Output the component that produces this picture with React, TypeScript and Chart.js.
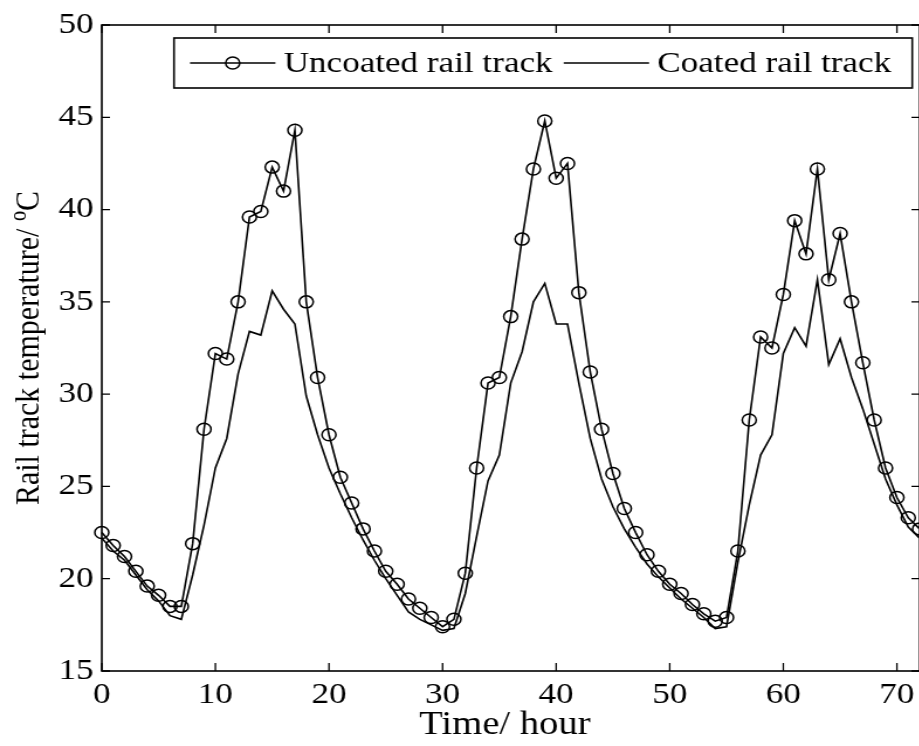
import React, { useEffect, useRef } from "react";
import { Chart, registerables } from "chart.js";

Chart.register(...registerables);

// ---- data ----
const hours = [
  0, 1, 2, 3, 4, 5, 6, 7, 8, 9, 10, 11, 12, 13, 14, 15, 16, 17, 18, 19, 20, 21, 22, 23, 24,
  25, 26, 27, 28, 29, 30, 31, 32, 33, 34, 35, 36, 37, 38, 39, 40, 41, 42, 43, 44, 45, 46, 47, 48,
  49, 50, 51, 52, 53, 54, 55, 56, 57, 58, 59, 60, 61, 62, 63, 64, 65, 66, 67, 68, 69, 70, 71, 72,
];

const uncoated = [
  22.5, 21.8, 21.2, 20.4, 19.6, 19.1, 18.5, 18.5, 21.9, 28.1, 32.2, 31.9, 35.0, 39.6, 39.9, 42.3,
  41.0, 44.3, 35.0, 30.9, 27.8, 25.5, 24.1, 22.7, 21.5, 20.4, 19.7, 18.9, 18.4, 17.9, 17.4, 17.8,
  20.3, 26.0, 30.6, 30.9, 34.2, 38.4, 42.2, 44.8, 41.7, 42.5, 35.5, 31.2, 28.1, 25.7, 23.8, 22.5,
  21.3, 20.4, 19.7, 19.2, 18.6, 18.1, 17.7, 17.9, 21.5, 28.6, 33.1, 32.5, 35.4, 39.4, 37.6, 42.2,
  36.2, 38.7, 35.0, 31.7, 28.6, 26.0, 24.4, 23.3, 22.7,
];

const coated = [
  22.2, 21.5, 21.0, 20.2, 19.4, 18.8, 18.0, 17.8, 20.2, 22.9, 26.0, 27.6, 31.1, 33.4, 33.2, 35.6,
  34.6, 33.8, 29.9, 27.8, 26.0, 24.6, 23.3, 22.1, 21.0, 20.0, 19.1, 18.2, 17.8, 17.5, 17.2, 17.3,
  19.2, 22.3, 25.3, 26.7, 30.6, 32.3, 35.0, 36.0, 33.8, 33.8, 30.6, 27.6, 25.4, 23.9, 22.7, 21.7,
  20.8, 20.1, 19.5, 18.9, 18.4, 17.9, 17.3, 17.4, 20.9, 24.0, 26.7, 27.8, 32.2, 33.6, 32.6, 36.2,
  31.6, 33.0, 30.9, 29.2, 27.3, 25.4, 24.0, 22.8, 22.2,
];

const seriesLabels = ["Uncoated rail track", "Coated rail track"];
const xTitle = "Time/ hour";
const yTitleMain = "Rail track temperature/ ";
const yTitleSup = "o";
const yTitleEnd = "C";

const X_MIN = 0;
const X_MAX = 72;
const X_STEP = 10;
const Y_MIN = 15;
const Y_MAX = 50;
const Y_STEP = 5;

// ---- layout ----
const STRETCH = 1.17; // horizontal stretch of the reference
const CW = 800;
const CH = 746;
const FONT = "'Liberation Serif', 'Times New Roman', serif";
const FS = 30;
const XTITLE_FS = 33;

const framePlugin = {
  id: "frame",
  afterDraw(chart: any) {
    const { ctx, chartArea } = chart;
    const { left, right, top, bottom } = chartArea;
    const xs = chart.scales.x;
    const ys = chart.scales.y;
    ctx.save();
    ctx.strokeStyle = "#000";
    ctx.lineWidth = 1.6;
    ctx.strokeRect(left, top, right - left, bottom - top);

    // inward ticks
    ctx.lineWidth = 1.3;
    ctx.beginPath();
    xs.ticks.forEach((t: any) => {
      const px = xs.getPixelForValue(t.value);
      ctx.moveTo(px, bottom);
      ctx.lineTo(px, bottom - 8);
      ctx.moveTo(px, top);
      ctx.lineTo(px, top + 8);
    });
    ys.ticks.forEach((t: any) => {
      const py = ys.getPixelForValue(t.value);
      ctx.moveTo(left, py);
      ctx.lineTo(left + 7, py);
      ctx.moveTo(right, py);
      ctx.lineTo(right - 7, py);
    });
    ctx.stroke();

    // legend
    ctx.font = `${FS}px ${FONT}`;
    ctx.fillStyle = "#000";
    ctx.textBaseline = "middle";
    ctx.textAlign = "left";
    const bx = left + 61.7;
    const by = 38;
    const bh = 50;
    const cy = by + bh / 2;
    const lineLen = 73;
    const w1 = ctx.measureText(seriesLabels[0]).width;
    const w2 = ctx.measureText(seriesLabels[1]).width;
    let cx = bx + 13.7;
    ctx.lineWidth = 1.5;
    ctx.beginPath();
    ctx.moveTo(cx, cy);
    ctx.lineTo(cx + lineLen, cy);
    ctx.stroke();
    ctx.beginPath();
    ctx.arc(cx + lineLen / 2, cy, 6, 0, Math.PI * 2);
    ctx.stroke();
    cx += lineLen + 7;
    ctx.fillText(seriesLabels[0], cx, cy + 1);
    cx += w1 + 9.5;
    ctx.beginPath();
    ctx.moveTo(cx, cy);
    ctx.lineTo(cx + lineLen, cy);
    ctx.stroke();
    cx += lineLen + 7;
    ctx.fillText(seriesLabels[1], cx, cy + 1);
    cx += w2 + 18;
    ctx.lineWidth = 1.6;
    ctx.strokeRect(bx, by, cx - bx, bh);

    // x title
    ctx.font = `${XTITLE_FS}px ${FONT}`;
    ctx.textAlign = "center";
    ctx.textBaseline = "alphabetic";
    ctx.fillText(xTitle, (left + right) / 2 - 5, 734);

    // y title (rotated, with superscript)
    ctx.save();
    ctx.translate(25.6, (top + bottom) / 2);
    ctx.rotate(-Math.PI / 2);
    ctx.textAlign = "left";
    ctx.textBaseline = "middle";
    ctx.font = `${FS}px ${FONT}`;
    const m1 = ctx.measureText(yTitleMain).width;
    const m3 = ctx.measureText(yTitleEnd).width;
    ctx.font = `${FS * 0.68}px ${FONT}`;
    const m2 = ctx.measureText(yTitleSup).width;
    const total = m1 + m2 + m3;
    let tx = -total / 2;
    ctx.font = `${FS}px ${FONT}`;
    ctx.fillText(yTitleMain, tx, 0);
    tx += m1;
    ctx.font = `${FS * 0.68}px ${FONT}`;
    ctx.fillText(yTitleSup, tx, -9);
    tx += m2;
    ctx.font = `${FS}px ${FONT}`;
    ctx.fillText(yTitleEnd, tx, 0);
    ctx.restore();

    ctx.restore();
  },
};

export default function App() {
  const ref = useRef<HTMLCanvasElement>(null);

  useEffect(() => {
    if (!ref.current) return;
    const font = { family: FONT, size: FS };
    const chart = new Chart(ref.current, {
      type: "line",
      data: {
        datasets: [
          {
            label: seriesLabels[0],
            data: hours.map((h, i) => ({ x: h, y: uncoated[i] })),
            borderColor: "#000",
            borderWidth: 1.6,
            pointRadius: 6,
            pointStyle: "circle",
            pointBorderColor: "#000",
            pointBackgroundColor: "rgba(0,0,0,0)",
            pointBorderWidth: 1.5,
            tension: 0,
            fill: false,
            clip: false,
          },
          {
            label: seriesLabels[1],
            data: hours.map((h, i) => ({ x: h, y: coated[i] })),
            borderColor: "#000",
            borderWidth: 1.6,
            pointRadius: 0,
            tension: 0,
            fill: false,
            clip: false,
          },
        ],
      },
      options: {
        responsive: false,
        animation: false,
        devicePixelRatio: 1,
        layout: { padding: { left: 0, right: 14, top: 21, bottom: 0 } },
        plugins: {
          legend: { display: false },
          tooltip: { enabled: false },
          title: { display: false },
        },
        scales: {
          x: {
            type: "linear",
            min: X_MIN,
            max: X_MAX,
            ticks: {
              stepSize: X_STEP,
              includeBounds: false,
              font,
              color: "#000",
              padding: 6,
              maxRotation: 0,
              autoSkip: false,
            },
            grid: { display: false, drawTicks: false },
            border: { display: false },
            afterFit: (s: any) => {
              s.height = 75;
            },
          },
          y: {
            type: "linear",
            min: Y_MIN,
            max: Y_MAX,
            ticks: {
              stepSize: Y_STEP,
              font,
              color: "#000",
              padding: 7,
            },
            grid: { display: false, drawTicks: false },
            border: { display: false },
            afterFit: (s: any) => {
              s.width = 87;
            },
          },
        },
      },
      plugins: [framePlugin],
    } as any);
    return () => chart.destroy();
  }, []);

  return (
    <div
      style={{
        position: "fixed",
        left: 0,
        top: 0,
        width: 919,
        height: 746,
        overflow: "hidden",
        background: "#fff",
      }}
    >
      <canvas
        ref={ref}
        width={CW}
        height={CH}
        style={{ width: `${CW * STRETCH}px`, height: `${CH}px`, display: "block" }}
      />
    </div>
  );
}
